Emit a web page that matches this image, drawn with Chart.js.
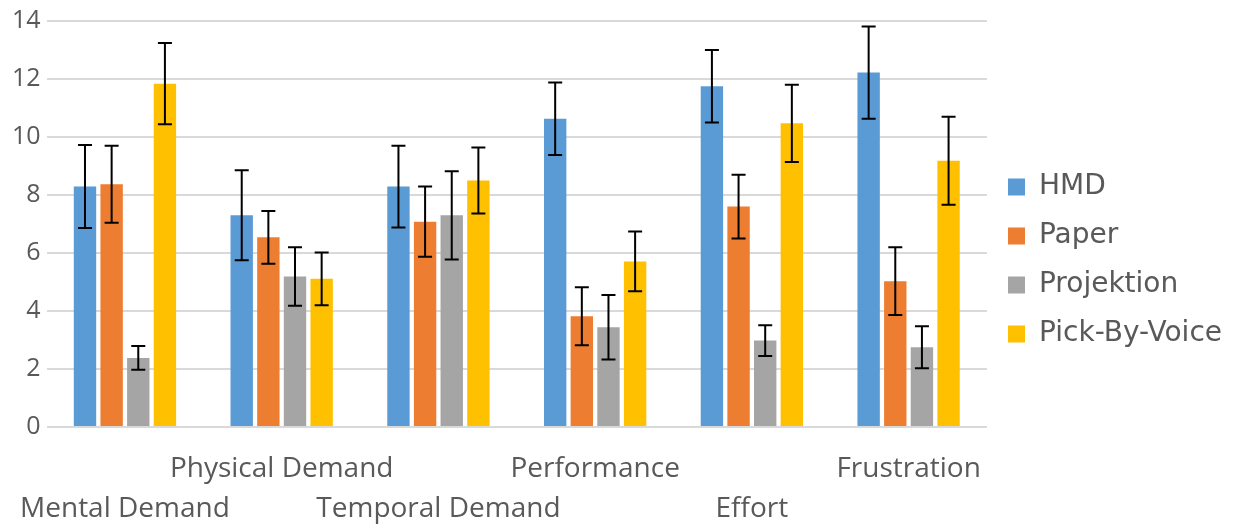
<!DOCTYPE html>
<html>
<head>
<meta charset="utf-8">
<script src="https://cdn.jsdelivr.net/npm/chart.js@4"></script>
<style>
    html, body { margin: 0; padding: 0; background: #ffffff; }
    #wrap { width: 1233px; height: 525px; position: relative; }
</style>
</head>
<body>
<div id="wrap"><canvas id="myChart"></canvas></div>
<script>
// Data
    var categories = ['Mental Demand', 'Physical Demand', 'Temporal Demand', 'Performance', 'Effort', 'Frustration'];
    var seriesNames = ['HMD', 'Paper', 'Projektion', 'Pick-By-Voice'];
    var seriesColors = ['#5B9BD5', '#ED7D31', '#A5A5A5', '#FFC000'];

    var hmd = [8.29, 7.30, 8.29, 10.63, 11.75, 12.22];
    var paper = [8.37, 6.54, 7.08, 3.82, 7.60, 5.03];
    var projektion = [2.38, 5.19, 7.30, 3.44, 2.98, 2.75];
    var pickByVoice = [11.84, 5.11, 8.50, 5.71, 10.47, 9.18];

    var hmdErr = [1.43, 1.55, 1.41, 1.25, 1.25, 1.59];
    var paperErr = [1.33, 0.91, 1.21, 1.00, 1.10, 1.17];
    var projektionErr = [0.41, 1.01, 1.52, 1.11, 0.53, 0.72];
    var pickByVoiceErr = [1.40, 0.91, 1.14, 1.03, 1.33, 1.52];

    var yTicks = [0, 2, 4, 6, 8, 10, 12, 14];

    var seriesValues = [hmd, paper, projektion, pickByVoice];
    var seriesErrors = [hmdErr, paperErr, projektionErr, pickByVoiceErr];

// Labels alternate between two rows like the original
    var xLabels = categories.map(function(c, i){
        return (i % 2 == 0) ? ['', c] : [c, ''];
    });

// Error bars, drawn through the chart's own scales
    var errorBarPlugin = {
        id: 'errorBars',
        afterLayout: function(chart){
            // nudge the legend block up a little, it sits higher in the original
            chart.legend.bottom -= 12;
        },
        afterDatasetsDraw: function(chart){
            var ctx = chart.ctx;
            var yScale = chart.scales.y;
            ctx.save();
            ctx.strokeStyle = '#000000';
            ctx.lineWidth = 2;
            chart.data.datasets.forEach(function(ds, d){
                var meta = chart.getDatasetMeta(d);
                meta.data.forEach(function(bar, i){
                    var v = ds.data[i];
                    var e = seriesErrors[d][i];
                    var top = yScale.getPixelForValue(v + e);
                    var bot = yScale.getPixelForValue(v - e);
                    var x = bar.x;
                    var cap = 7;
                    ctx.beginPath();
                    ctx.moveTo(x, top); ctx.lineTo(x, bot);
                    ctx.moveTo(x - cap, top); ctx.lineTo(x + cap, top);
                    ctx.moveTo(x - cap, bot); ctx.lineTo(x + cap, bot);
                    ctx.stroke();
                });
            });
            ctx.restore();
        }
    };

    var datasets = seriesNames.map(function(name, i){
        return {
            label: name,
            data: seriesValues[i],
            backgroundColor: seriesColors[i],
            borderWidth: 0,
            categoryPercentage: 0.68,
            barPercentage: 0.84
        };
    });

    var ctx = document.getElementById('myChart').getContext('2d');
    var chart = new Chart(ctx, {
        type: 'bar',
        data: {
            labels: xLabels,
            datasets: datasets
        },
        options: {
            responsive: true,
            maintainAspectRatio: false,
            animation: false,
            layout: { padding: { top: 8, right: 1, left: 6, bottom: 0 } },
            plugins: {
                tooltip: { enabled: false },
                legend: {
                    position: 'right',
                    labels: {
                        boxWidth: 17,
                        boxHeight: 17,
                        padding: 21,
                        color: '#595959',
                        font: { family: 'DejaVu Sans', size: 28 }
                    }
                }
            },
            scales: {
                x: {
                    grid: { display: false },
                    border: { display: false },
                    afterFit: function(axis){
                        axis.height = 98;
                    },
                    ticks: {
                        color: '#595959',
                        maxRotation: 0,
                        autoSkip: false,
                        padding: 14,
                        font: { family: 'Open Sans', size: 28, lineHeight: 1.43 }
                    }
                },
                y: {
                    min: 0,
                    max: 14,
                    afterBuildTicks: function(axis){
                        axis.ticks = yTicks.map(function(v){ return { value: v }; });
                    },
                    grid: { color: '#d9d9d9', lineWidth: 2, drawTicks: false },
                    border: { display: false },
                    ticks: {
                        color: '#595959',
                        padding: 6,
                        font: { family: 'Open Sans', size: 25 }
                    }
                }
            }
        },
        plugins: [errorBarPlugin]
    });
</script>
</body>
</html>
